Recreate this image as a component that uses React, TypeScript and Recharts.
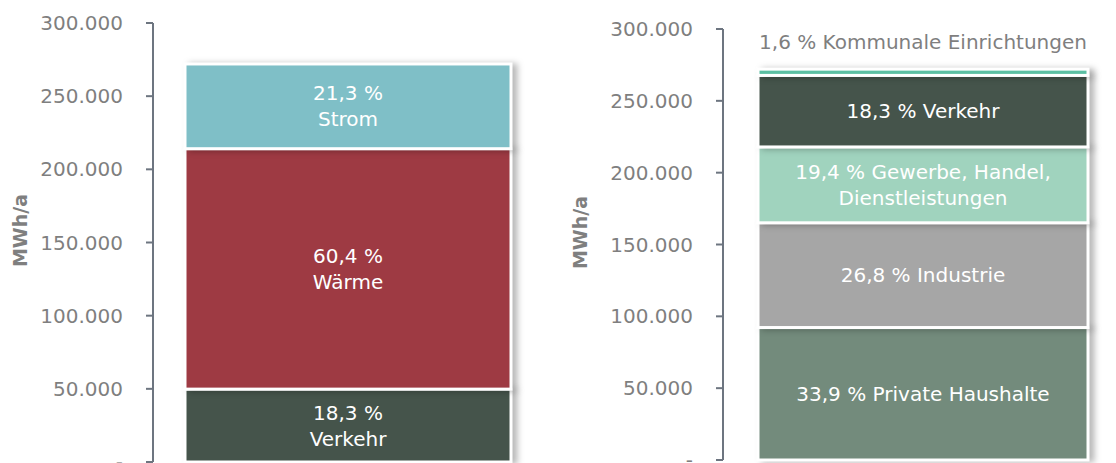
import React from 'react';
import { BarChart, Bar, XAxis, YAxis, LabelList, Label } from 'recharts';

// Energieträger (links) – Anteile und MWh/a, von unten nach oben
const carrierNames = ['Verkehr', 'Wärme', 'Strom'];
const carrierShares = [18.3, 60.4, 21.3];
const carrierValues = [49800, 164300, 57900];
const carrierColors = ['#45544B', '#9E3A43', '#7FBFC7'];

// Sektoren (rechts), von unten nach oben
const sectorNames = ['Private Haushalte', 'Industrie', 'Gewerbe, Handel, Dienstleistungen', 'Verkehr', 'Kommunale Einrichtungen'];
const sectorShares = [33.9, 26.8, 19.4, 18.3, 1.6];
const sectorValues = [92200, 72900, 52800, 49800, 4350];
const sectorColors = ['#738B7C', '#A6A6A6', '#A0D3BE', '#45544B', '#5CBFA3'];
// label lines per sector
const sectorLabelLines = [
    [fmtShare(sectorShares[0]) + ' Private Haushalte'],
    [fmtShare(sectorShares[1]) + ' Industrie'],
    [fmtShare(sectorShares[2]) + ' Gewerbe, Handel,', 'Dienstleistungen'],
    [fmtShare(sectorShares[3]) + ' Verkehr'],
    [fmtShare(sectorShares[4]) + ' Kommunale Einrichtungen'],
];

const yTicks = [0, 50000, 100000, 150000, 200000, 250000, 300000];

const FONT = '"DejaVu Sans", sans-serif';
const AXIS_COLOR = '#6D7580';
const TEXT_GRAY = '#7F7F7F';

function fmtShare(v: number) {
    return v.toFixed(1).replace('.', ',') + ' %';
}
const fmtTick = (v: number) => (v === 0 ? '-' : v.toLocaleString('de-DE'));

const carrierRow: Record<string, any> = { name: 'Energieträger' };
carrierNames.forEach((n, i) => { carrierRow[n] = carrierValues[i]; });
const sectorRow: Record<string, any> = { name: 'Sektoren' };
sectorNames.forEach((n, i) => { sectorRow[n] = sectorValues[i]; });

const shadowShape = (props: any) => {
    const { x, y, width, height, fill } = props;
    return (
        <rect
            x={x} y={y} width={width} height={height} fill={fill}
            stroke="#fff" strokeWidth={3}
            style={{ filter: 'drop-shadow(5px 1px 3px rgba(0,0,0,0.28))' }}
        />
    );
};

function centerLabel(lines: string[], color = '#fff', above = false) {
    return (props: any) => {
        const { x, y, width, height } = props;
        const cx = x + width / 2;
        if (above) {
            return (
                <text x={cx} y={y - 20} textAnchor="middle" fill={color} fontSize={20} fontFamily={FONT}>
                    {lines[0]}
                </text>
            );
        }
        const cy = y + height / 2;
        const step = 26;
        const start = cy - ((lines.length - 1) * step) / 2;
        return (
            <g>
                {lines.map((l, i) => (
                    <text key={i} x={cx} y={start + i * step} dy={7} textAnchor="middle" fill={color} fontSize={20} fontFamily={FONT}>
                        {l}
                    </text>
                ))}
            </g>
        );
    };
}

const yLabel = (props: any) => {
    const { viewBox } = props;
    const x = 20;
    const y = viewBox.y + viewBox.height / 2 - 12;
    return (
        <text x={x} y={y} transform={`rotate(-90 ${x} ${y})`} textAnchor="middle" dy={7}
            fill={TEXT_GRAY} fontSize={19} fontWeight="bold" fontFamily={FONT}>
            MWh/a
        </text>
    );
};

const tickStyle = { fill: TEXT_GRAY, fontSize: 20, fontFamily: FONT };

export default function App() {
    return (
        <div style={{ position: 'absolute', left: 0, top: 0, width: 1116, height: 463, overflow: 'hidden', background: '#fff' }}>
            <div style={{ position: 'absolute', left: 0, top: 0 }}>
                <BarChart width={560} height={480} data={[carrierRow]} margin={{ top: 23, right: 18, bottom: 18, left: 0 }}>
                    <XAxis dataKey="name" tick={false} height={0} axisLine={{ stroke: AXIS_COLOR, strokeWidth: 2 }} tickLine={false} />
                    <YAxis
                        width={153}
                        domain={[0, 300000]}
                        ticks={yTicks}
                        tickFormatter={fmtTick}
                        tick={tickStyle}
                        tickSize={7}
                        tickMargin={23}
                        axisLine={{ stroke: AXIS_COLOR, strokeWidth: 2 }}
                        tickLine={{ stroke: AXIS_COLOR, strokeWidth: 2 }}
                    >
                        <Label content={yLabel} />
                    </YAxis>
                    {carrierNames.map((n, i) => (
                        <Bar key={n} dataKey={n} stackId="a" fill={carrierColors[i]} barSize={326} shape={shadowShape} isAnimationActive={false}>
                            <LabelList dataKey={n} content={centerLabel([fmtShare(carrierShares[i]), n])} />
                        </Bar>
                    ))}
                </BarChart>
            </div>
            <div style={{ position: 'absolute', left: 560, top: 0 }}>
                <BarChart width={566} height={480} data={[sectorRow]} margin={{ top: 29, right: 4, bottom: 20, left: 0 }}>
                    <XAxis dataKey="name" tick={false} height={0} axisLine={{ stroke: AXIS_COLOR, strokeWidth: 2 }} tickLine={false} />
                    <YAxis
                        width={163}
                        domain={[0, 300000]}
                        ticks={yTicks}
                        tickFormatter={fmtTick}
                        tick={tickStyle}
                        tickSize={7}
                        tickMargin={23}
                        axisLine={{ stroke: AXIS_COLOR, strokeWidth: 2 }}
                        tickLine={{ stroke: AXIS_COLOR, strokeWidth: 2 }}
                    >
                        <Label content={yLabel} />
                    </YAxis>
                    {sectorNames.map((n, i) => (
                        <Bar key={n} dataKey={n} stackId="a" fill={sectorColors[i]} barSize={330} shape={shadowShape} isAnimationActive={false}>
                            <LabelList
                                dataKey={n}
                                content={centerLabel(sectorLabelLines[i], i === 4 ? TEXT_GRAY : '#fff', i === 4)}
                            />
                        </Bar>
                    ))}
                </BarChart>
            </div>
        </div>
    );
}
